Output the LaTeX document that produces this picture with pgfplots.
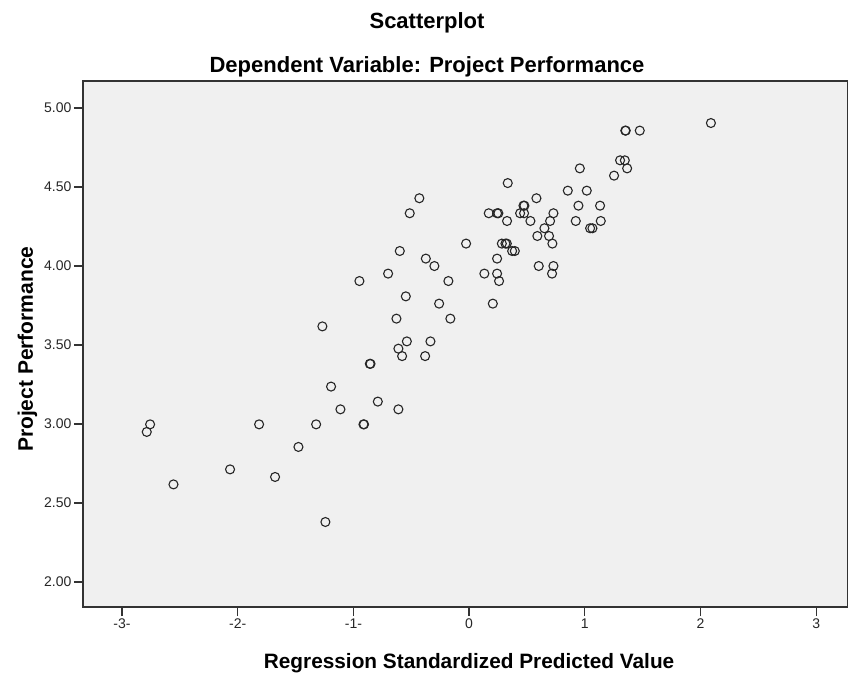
\documentclass[border=0pt]{standalone}
\usepackage{pgfplots}
\pgfplotsset{compat=1.18}
\usepackage{fontspec}
\setmainfont{Liberation Sans}
\definecolor{bgc}{HTML}{F0F0F0}
\begin{document}
\begin{tikzpicture}[x=1pt,y=1pt]
\useasboundingbox (-83pt,-66pt) rectangle (765pt,607pt);
\begin{axis}[
  at={(0pt,0pt)}, anchor=south west,
  scale only axis, width=765pt, height=526pt,
  xmin=-3.337, xmax=3.275, ymin=1.842, ymax=5.171,
  axis background/.style={fill=bgc},
  axis line style={draw=black!80, line width=1.2pt},
  clip=false,
  xtick={-3,-2,-1,0,1,2,3},
  xticklabels={-3-,-2-,-1-,0,1,2,3},
  ytick={2,2.5,3,3.5,4,4.5,5},
  yticklabels={2.00,2.50,3.00,3.50,4.00,4.50,5.00},
  tick align=outside, tick pos=left,
  major tick length=9pt,
  tick style={draw=black!80, line width=1.2pt},
  ticklabel style={font=\fontsize{14}{16}\selectfont, text=black!85},
  yticklabel style={xshift=1pt},
  xticklabel style={yshift=1pt},
]
\addplot[only marks, mark=o, mark size=4.5pt, mark options={draw=black!85, line width=1.1pt}] coordinates {
(-0.948,3.905) (-1.268,3.618) (-0.858,3.381) (-0.852,3.381)
(2.09,4.905) (1.354,4.857) (1.350,4.857) (1.475,4.857)
(1.305,4.669) (1.346,4.669) (1.366,4.618) (1.253,4.572) (0.957,4.618)
(0.334,4.525) (0.853,4.477) (1.017,4.477) (0.582,4.429) (-0.43,4.429)
(0.945,4.382) (1.132,4.382) (0.470,4.382) (0.478,4.382)
(-0.513,4.334) (0.170,4.334) (0.242,4.334) (0.253,4.334) (0.441,4.334) (0.475,4.334) (0.729,4.334)
(0.328,4.285) (0.53,4.285) (0.70,4.285) (0.922,4.285) (1.138,4.285)
(0.651,4.239) (1.046,4.239) (1.066,4.239)
(0.59,4.19) (0.691,4.19)
(-0.026,4.142) (0.283,4.142) (0.314,4.142) (0.326,4.142) (0.72,4.142)
(-0.599,4.095) (0.372,4.095) (0.395,4.095)
(-0.374,4.047) (-0.30,4.0) (0.242,4.047) (0.602,4.0) (0.729,4.0)
(-0.70,3.952) (0.132,3.952) (0.242,3.952) (0.717,3.952)
(-0.179,3.905) (0.259,3.905)
(-0.547,3.808) (0.205,3.762) (-0.259,3.762)
(-0.628,3.667) (-0.162,3.667)
(-0.538,3.523) (-0.334,3.523) (-0.611,3.477) (-0.579,3.43) (-0.38,3.43)
(-1.193,3.237) (-0.789,3.142) (-1.112,3.093) (-0.611,3.093)
(-0.913,2.998) (-0.908,2.998) (-1.322,2.998) (-1.815,2.998) (-2.757,2.998) (-2.786,2.95)
(-1.475,2.855) (-2.066,2.713) (-1.677,2.665) (-2.555,2.618) (-1.242,2.38)
};
\node[font=\bfseries\fontsize{22}{24}\selectfont, anchor=base] at (rel axis cs:0.4497,1) [yshift=52pt] {Scatterplot};
\node[font=\bfseries\fontsize{22}{24}\selectfont, anchor=base] at (rel axis cs:0.4497,1) [yshift=9pt] {Dependent Variable: Project Performance};
\node[font=\bfseries\fontsize{20.8}{23}\selectfont, anchor=base] at (axis cs:0,1.842) [yshift=-61pt] {Regression Standardized Predicted Value};
\node[xshift=-50pt, rotate=90, font=\bfseries\fontsize{21}{23}\selectfont, anchor=base] at (rel axis cs:0,0.49) {Project Performance};
\end{axis}
\end{tikzpicture}
\end{document}
